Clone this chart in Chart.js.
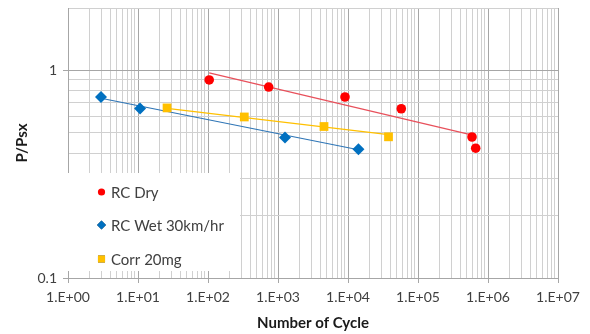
<!DOCTYPE html>
<html>
<head>
<meta charset="utf-8">
<script src="https://cdn.jsdelivr.net/npm/chart.js@4/dist/chart.umd.min.js"></script>
<style>
  html, body { margin: 0; padding: 0; background: #fff; }
  #wrap { position: relative; width: 590px; height: 334px; }
</style>
</head>
<body>
<div id="wrap"><canvas id="c" width="590" height="334"></canvas></div>
<script>
// ---- Data ----
const seriesNames = ["RC Dry", "RC Wet 30km/hr", "Corr 20mg"];

const rcDryCycles = [104, 736, 9060, 57700, 591000, 667000];
const rcDryRatio  = [0.90, 0.832, 0.745, 0.654, 0.478, 0.422];

const rcWetCycles = [2.96, 10.7, 1260, 14100];
const rcWetRatio  = [0.744, 0.655, 0.476, 0.417];

const corrCycles  = [26, 330, 4540, 37900];
const corrRatio   = [0.66, 0.597, 0.537, 0.479];

// trend line endpoints (power trend lines)
const rcDryTrendCycles = [104, 667000];
const rcDryTrendRatio  = [0.973, 0.484];
const rcWetTrendCycles = [2.96, 14100];
const rcWetTrendRatio  = [0.735, 0.415];
const corrTrendCycles  = [26, 37900];
const corrTrendRatio   = [0.657, 0.491];

const xTickLabels = ["1.E+00","1.E+01","1.E+02","1.E+03","1.E+04","1.E+05","1.E+06","1.E+07"];
const yTickLabels = { "0.1": "0.1", "1": "1" };
const xAxisTitle = "Number of Cycle";
const yAxisTitle = "P/Psx";

const toPts = (xs, ys) => xs.map((x, i) => ({ x: x, y: ys[i] }));
const isDecade = v => Math.abs(Math.log10(v) - Math.round(Math.log10(v))) < 1e-9;

const FONT = "Lato, 'Open Sans', sans-serif";

const colors = {
  dry: "#ff0000", dryLine: "#e8505b",
  wet: "#0070c0", wetLine: "#2e75b6",
  corr: "#ffc000", corrLine: "#ffc000"
};

const legendPlugin = {
  id: "boxLegend",
  beforeDatasetsDraw(chart) {
    const { ctx, chartArea } = chart;
    const x0 = chartArea.left - 1, y0 = 173, x1 = 240, y1 = 271;
    ctx.save();
    ctx.fillStyle = "#ffffff";
    ctx.fillRect(x0, y0, x1 - x0, y1 - y0);
    const items = [
      { name: seriesNames[0], style: "circle", color: colors.dry, r: 3.6 },
      { name: seriesNames[1], style: "rectRot", color: colors.wet, r: 4.5 },
      { name: seriesNames[2], style: "rect", color: colors.corr, r: 5 }
    ];
    const ys = [192, 225, 259];
    ctx.font = "15px " + FONT;
    ctx.textBaseline = "middle";
    ctx.textAlign = "left";
    items.forEach((it, i) => {
      Chart.helpers.drawPoint(ctx, { pointStyle: it.style, radius: it.r, borderWidth: 0, rotation: 0 }, 101.5, ys[i]);
      ctx.fillStyle = it.color;
      ctx.fill();
      ctx.fillStyle = "#404040";
      ctx.fillText(it.name, 111, ys[i] + 1);
    });
    ctx.restore();
  },
  afterDraw(chart) {
    const { ctx, chartArea } = chart;
    ctx.save();
    ctx.fillStyle = "#1a1a1a";
    ctx.font = "bold 15px " + FONT;
    ctx.textAlign = "center";
    ctx.textBaseline = "middle";
    ctx.fillText(xAxisTitle, (chartArea.left + chartArea.right) / 2, 323);
    ctx.translate(22, (chartArea.top + chartArea.bottom) / 2);
    ctx.rotate(-Math.PI / 2);
    ctx.fillText(yAxisTitle, 0, 0);
    ctx.restore();
  }
};

const xTicks = [];
for (let e = 0; e < 7; e++) for (let s = 1; s < 10; s++) xTicks.push(s * Math.pow(10, e));
xTicks.push(1e7);
const yTicks = [0.1,0.2,0.3,0.4,0.5,0.6,0.7,0.8,0.9,1,2];

const ctx = document.getElementById("c").getContext("2d");
new Chart(ctx, {
  type: "scatter",
  data: {
    datasets: [
      { label: seriesNames[0], data: toPts(rcDryCycles, rcDryRatio), pointStyle: "circle", pointRadius: 4.8,
        backgroundColor: colors.dry, borderColor: colors.dry, borderWidth: 0, showLine: false, order: 0 },
      { label: seriesNames[1], data: toPts(rcWetCycles, rcWetRatio), pointStyle: "rectRot", pointRadius: 6,
        backgroundColor: colors.wet, borderColor: colors.wet, borderWidth: 0, showLine: false, order: 0 },
      { label: seriesNames[2], data: toPts(corrCycles, corrRatio), pointStyle: "rect", pointRadius: 6.2,
        backgroundColor: colors.corr, borderColor: colors.corr, borderWidth: 0, showLine: false, order: 0 },
      { label: "trend dry", data: toPts(rcDryTrendCycles, rcDryTrendRatio), showLine: true, pointRadius: 0,
        borderColor: colors.dryLine, borderWidth: 1.2, fill: false, order: 1 },
      { label: "trend wet", data: toPts(rcWetTrendCycles, rcWetTrendRatio), showLine: true, pointRadius: 0,
        borderColor: colors.wetLine, borderWidth: 1.2, fill: false, order: 1 },
      { label: "trend corr", data: toPts(corrTrendCycles, corrTrendRatio), showLine: true, pointRadius: 0,
        borderColor: colors.corrLine, borderWidth: 1.2, fill: false, order: 1 }
    ]
  },
  options: {
    responsive: false,
    animation: false,
    devicePixelRatio: 1,
    layout: { padding: { top: 8, right: 32, left: 0, bottom: 0 } },
    plugins: { legend: { display: false }, tooltip: { enabled: false } },
    scales: {
      x: {
        type: "logarithmic", min: 1, max: 1e7,
        afterBuildTicks: s => { s.ticks = xTicks.map(v => ({ value: v, major: isDecade(v) })); },
        afterFit: s => { s.height = 56; s.paddingLeft = 0; s.paddingRight = 0; },
        border: { display: true, color: "#a6a6a6", width: 1 },
        grid: {
          color: c => (c.tick && isDecade(c.tick.value)) ? "#a6a6a6" : "#d0d0d0",
          tickColor: c => (c.tick && isDecade(c.tick.value)) ? "#a6a6a6" : "rgba(0,0,0,0)",
          tickLength: 5, lineWidth: 1
        },
        ticks: {
          autoSkip: false, maxRotation: 0, minRotation: 0, padding: 6,
          color: "#404040", font: { family: FONT, size: 14 },
          callback: v => isDecade(v) ? xTickLabels[Math.round(Math.log10(v))] : ""
        },
        title: { display: false }
      },
      y: {
        type: "logarithmic", min: 0.1, max: 2,
        afterBuildTicks: s => { s.ticks = yTicks.map(v => ({ value: v, major: isDecade(v) })); },
        afterFit: s => { s.width = 68; s.paddingTop = 0; s.paddingBottom = 0; },
        border: { display: true, color: "#a6a6a6", width: 1 },
        grid: {
          color: c => {
            if (!c.tick) return "#d0d0d0";
            if (c.tick.value === 2) return "#d0d0d0";
            return isDecade(c.tick.value) ? "#a6a6a6" : "#d0d0d0";
          },
          tickColor: c => (c.tick && isDecade(c.tick.value)) ? "#a6a6a6" : "rgba(0,0,0,0)",
          tickLength: 5, lineWidth: 1
        },
        ticks: {
          autoSkip: false, padding: 6,
          color: "#404040", font: { family: FONT, size: 14 },
          callback: v => {
            const k = String(Math.round(v * 10) / 10);
            return yTickLabels[k] !== undefined ? yTickLabels[k] : "";
          }
        },
        title: { display: false }
      }
    }
  },
  plugins: [legendPlugin]
});
</script>
</body>
</html>
